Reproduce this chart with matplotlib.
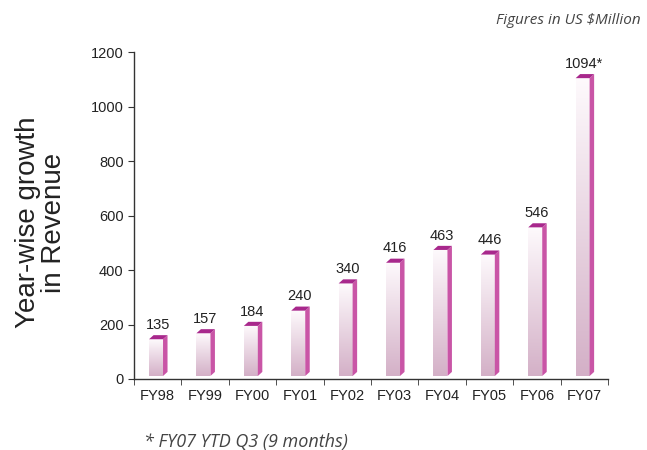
import numpy as np
import matplotlib
matplotlib.use('Agg')
import matplotlib.pyplot as plt
from matplotlib.patches import Polygon

# data
years = ['FY98', 'FY99', 'FY00', 'FY01', 'FY02', 'FY03', 'FY04', 'FY05', 'FY06', 'FY07']
revenue = [135, 157, 184, 240, 340, 416, 463, 446, 546, 1094]
value_labels = ['135', '157', '184', '240', '340', '416', '463', '446', '546', '1094*']
y_ticks = [0, 200, 400, 600, 800, 1000, 1200]

plt.rcParams['font.family'] = ['Liberation Sans', 'DejaVu Sans']

fig = plt.figure(figsize=(6.47, 4.5), dpi=100)
ax = fig.add_axes([0.2071, 0.1578, 0.7326, 0.7260])

# 3d-ish bar geometry (category units / data units)
front_w = 0.295
shift = -0.035
base = 11
dx = 0.095
dy = 15

grad = np.linspace(0, 1, 256).reshape(-1, 1)
top_col = np.array([0.995, 0.98, 0.99])
bot_col = np.array([0.83, 0.69, 0.78])
img = grad[:, :, None] * top_col + (1 - grad[:, :, None]) * bot_col

for i, v in enumerate(revenue):
    x0 = i + shift - front_w / 2
    x1 = x0 + front_w
    y0 = base
    y1 = base + v
    ax.imshow(img, extent=[x0, x1, y0, y1], origin='lower', aspect='auto',
              zorder=2, interpolation='bilinear')
    side = Polygon([(x1, y0), (x1 + dx, y0 + dy), (x1 + dx, y1 + dy), (x1, y1)],
                   closed=True, facecolor='#c955a6', edgecolor='none', zorder=3)
    top = Polygon([(x0, y1), (x1, y1), (x1 + dx, y1 + dy), (x0 + dx, y1 + dy)],
                  closed=True, facecolor='#a8288c', edgecolor='none', zorder=3)
    ax.add_patch(side)
    ax.add_patch(top)
    ax.text(i, y1 + dy + 12, value_labels[i], ha='center', va='bottom',
            fontsize=10.5, color='#222222')

ax.set_xlim(-0.5, len(years) - 0.5)
ax.set_ylim(0, 1200)

for s in ['top', 'right']:
    ax.spines[s].set_visible(False)
for s in ['left', 'bottom']:
    ax.spines[s].set_color('#333333')
    ax.spines[s].set_linewidth(1.0)

ax.set_yticks(y_ticks)
ax.set_yticklabels([str(t) for t in y_ticks])
ax.set_xticks(range(len(years)))
ax.set_xticklabels(years)
ax.set_xticks(np.arange(-0.5, len(years), 1), minor=True)
ax.tick_params(axis='x', which='major', length=0, pad=7, labelsize=10.5, colors='#222222')
ax.tick_params(axis='x', which='minor', length=4, direction='out', color='#333333')
ax.tick_params(axis='y', length=4, direction='out', labelsize=10.5, colors='#222222',
               color='#333333')

fig.text(0.064, 0.505, 'Year-wise growth\nin Revenue', rotation=90, ha='center', va='center',
         fontsize=20, color='#222222', linespacing=1.0)
fig.text(0.99, 0.955, 'Figures in US $Million', ha='right', va='center', fontsize=11,
         style='italic', color='#444444', family=['Open Sans', 'DejaVu Sans'])
fig.text(0.222, 0.018, '* FY07 YTD Q3 (9 months)', ha='left', va='center', fontsize=13,
         style='italic', color='#444444', family=['Open Sans', 'DejaVu Sans'])

fig.savefig('out.png', dpi=100)
